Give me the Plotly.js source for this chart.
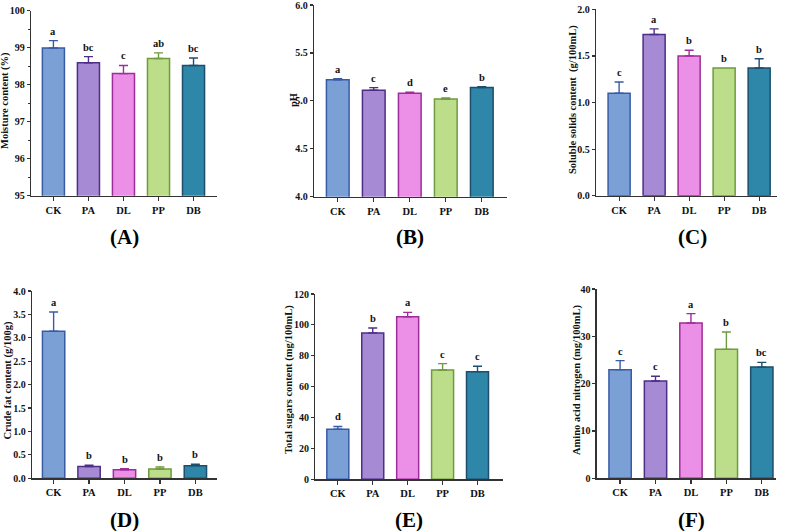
<!DOCTYPE html>
<html>
<head>
<meta charset="utf-8">
<script src="https://cdn.plot.ly/plotly-3.0.1.min.js"></script>
<style>html,body{margin:0;padding:0;background:#fff;}#chart{width:787px;height:531px;}</style>
</head>
<body>
<div id="chart"></div>
<script>
// ---- data ----
const categories = ['CK', 'PA', 'DL', 'PP', 'DB'];

const moisture     = [98.99, 98.59, 98.30, 98.71, 98.52];
const moistureSD   = [0.20, 0.17, 0.22, 0.15, 0.20];
const moistureSig  = ['a', 'bc', 'c', 'ab', 'bc'];

const pH           = [5.22, 5.11, 5.08, 5.02, 5.14];
const pHSD         = [0.01, 0.028, 0.01, 0.01, 0.007];
const pHSig        = ['a', 'c', 'd', 'e', 'b'];

const soluble      = [1.10, 1.73, 1.50, 1.37, 1.37];
const solubleSD    = [0.12, 0.06, 0.06, 0.0, 0.10];
const solubleSig   = ['c', 'a', 'b', 'b', 'b'];

const crudeFat     = [3.14, 0.25, 0.18, 0.20, 0.27];
const crudeFatSD   = [0.41, 0.03, 0.025, 0.04, 0.03];
const crudeFatSig  = ['a', 'b', 'b', 'b', 'b'];

const sugars       = [32.4, 94.8, 105.3, 70.8, 69.7];
const sugarsSD     = [1.8, 3.2, 2.8, 4.1, 3.5];
const sugarsSig    = ['d', 'b', 'a', 'c', 'c'];

const aminoN       = [22.96, 20.56, 32.8, 27.25, 23.5];
const aminoNSD     = [1.9, 1.0, 2.0, 3.65, 1.0];
const aminoNSig    = ['c', 'c', 'a', 'b', 'bc'];

const panelLabels  = ['(A)', '(B)', '(C)', '(D)', '(E)', '(F)'];
const yTitles      = ['Moisture content (%)', 'pH', 'Soluble solids content  (g/100mL)',
                      'Crude fat content (g/100g)', 'Total sugars content (mg/100mL)',
                      'Amino acid nitrogen (mg/100mL)'];

// ---- styling ----
const W = 787, H = 531;
const fills = ['#7ba0d6', '#a68ad4', '#ec8fe7', '#bcde8a', '#2e86a8'];
const lines = ['#385ba6', '#4c2e87', '#9e2d99', '#6e9b3d', '#1d4e6b'];
const FONT = 'Liberation Serif, Times New Roman, serif';

const panels = [
  {vals: moisture, sd: moistureSD, sig: moistureSig, x: [31, 217], y: [10.7, 195.7], xr: [-0.64, 4.67], yr: [95, 100], dtick: 1, fmt: '', minor: 0.5, tx: 5, ty: 101, lx: 124, ly: 237},
  {vals: pH, sd: pHSD, sig: pHSig, x: [314, 507], y: [5, 196.7], xr: [-0.66, 4.7], yr: [4, 6], dtick: 0.5, fmt: '.1f', minor: null, tx: 294, ty: 100, lx: 410, ly: 237},
  {vals: soluble, sd: solubleSD, sig: solubleSig, x: [596, 777], y: [9.3, 195.7], xr: [-0.66, 4.51], yr: [0, 2], dtick: 0.5, fmt: '.1f', minor: null, tx: 573, ty: 100, lx: 692, ly: 237},
  {vals: crudeFat, sd: crudeFatSD, sig: crudeFatSig, x: [32, 217], y: [291, 478.3], xr: [-0.61, 4.61], yr: [0, 4], dtick: 0.5, fmt: '.1f', minor: null, tx: 7.5, ty: 380, lx: 124, ly: 520},
  {vals: sugars, sd: sugarsSD, sig: sugarsSig, x: [315.3, 503], y: [294, 479.3], xr: [-0.645, 4.73], yr: [0, 120], dtick: 20, fmt: '', minor: null, tx: 289, ty: 380, lx: 409, ly: 520},
  {vals: aminoN, sd: aminoNSD, sig: aminoNSig, x: [596.7, 776], y: [289, 478.3], xr: [-0.66, 4.4], yr: [0, 40], dtick: 10, fmt: '', minor: null, tx: 577, ty: 380, lx: 691, ly: 520}
];

const traces = [];
const annotations = [];
const layout = {
  width: W, height: H,
  margin: {l: 0, r: 0, t: 0, b: 0},
  paper_bgcolor: '#ffffff',
  plot_bgcolor: 'rgba(0,0,0,0)',
  showlegend: false,
  barmode: 'overlay',
  font: {family: FONT, color: '#111'},
  annotations: annotations
};

panels.forEach((p, k) => {
  const n = k + 1;
  const xa = 'x' + (n === 1 ? '' : n);
  const ya = 'y' + (n === 1 ? '' : n);
  const xKey = 'xaxis' + (n === 1 ? '' : n);
  const yKey = 'yaxis' + (n === 1 ? '' : n);

  categories.forEach((c, i) => {
    traces.push({
      type: 'bar',
      x: [c], y: [p.vals[i]],
      xaxis: xa, yaxis: ya,
      width: 0.63,
      marker: {color: fills[i], line: {color: lines[i], width: 1.5}},
      error_y: {type: 'data', array: [p.sd[i]], arrayminus: [0], symmetric: false,
                color: lines[i], thickness: 1.4, width: 4.5, visible: p.sd[i] > 0},
      hoverinfo: 'x+y'
    });
    annotations.push({
      xref: xa, yref: ya, x: c, y: p.vals[i] + p.sd[i],
      text: p.sig[i], showarrow: false, yanchor: 'bottom', yshift: 2,
      font: {family: FONT, size: 10.5, color: '#111', weight: 'bold'}
    });
  });

  layout[xKey] = {
    domain: [p.x[0] / W, p.x[1] / W], anchor: ya,
    type: 'category', categoryorder: 'array', categoryarray: categories,
    range: p.xr, showline: true, linecolor: '#333', linewidth: 1.3,
    ticks: 'outside', ticklen: 4, tickwidth: 1.2, tickcolor: '#333',
    showgrid: false, zeroline: false, fixedrange: true,
    tickfont: {family: FONT, size: 10.5, color: '#111', weight: 'bold'}
  };
  layout[yKey] = {
    domain: [1 - p.y[1] / H, 1 - p.y[0] / H], anchor: xa,
    range: p.yr, dtick: p.dtick, tick0: 0, tickformat: p.fmt,
    showline: true, linecolor: '#333', linewidth: 1.3,
    ticks: 'outside', ticklen: 3, tickwidth: 1.2, tickcolor: '#333',
    ticklabeloverflow: 'allow',
    showgrid: false, zeroline: false, fixedrange: true,
    tickfont: {family: FONT, size: 10, color: '#111', weight: 'bold'}
  };
  if (p.minor) {
    layout[yKey].minor = {dtick: p.minor, ticks: 'outside', ticklen: 2, tickcolor: '#333', showgrid: false};
  }

  annotations.push({
    xref: 'paper', yref: 'paper', x: p.tx / W, y: 1 - p.ty / H,
    text: yTitles[k], textangle: -90, showarrow: false,
    xanchor: 'center', yanchor: 'middle',
    font: {family: FONT, size: 10.5, color: '#111', weight: 'bold'}
  });
  annotations.push({
    xref: 'paper', yref: 'paper', x: p.lx / W, y: 1 - p.ly / H,
    text: panelLabels[k], showarrow: false,
    xanchor: 'center', yanchor: 'middle',
    font: {family: FONT, size: 21, color: '#000', weight: 'bold'}
  });
});

Plotly.newPlot('chart', traces, layout, {displayModeBar: false, staticPlot: true});
</script>
</body>
</html>
